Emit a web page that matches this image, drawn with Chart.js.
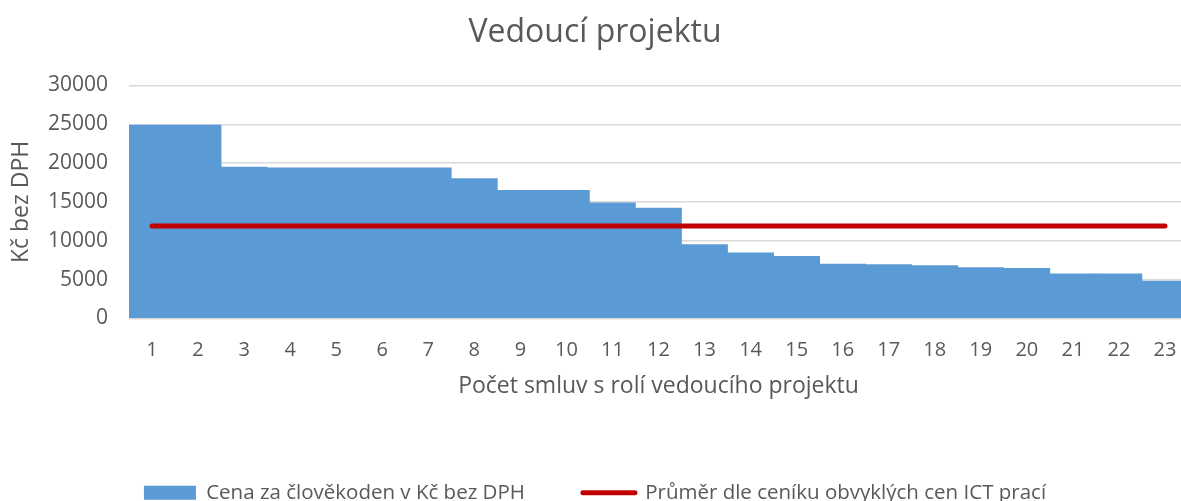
<!DOCTYPE html>
<html>
<head>
<meta charset="utf-8">
<script src="https://cdn.jsdelivr.net/npm/chart.js@4.4.1/dist/chart.umd.min.js"></script>
<style>
html,body{margin:0;padding:0;background:#fff;overflow:hidden;}
#wrap{position:relative;width:1188px;height:513px;}
</style>
</head>
<body>
<div id="wrap"><canvas id="c"></canvas></div>
<script>
const categories = ["1","2","3","4","5","6","7","8","9","10","11","12","13","14","15","16","17","18","19","20","21","22","23"];
const pricePerDay = [24900,24900,19500,19400,19400,19400,19400,18000,16500,16500,14900,14200,9500,8450,8000,7000,6950,6800,6550,6450,5750,5750,4800];
const averagePrice = [11900,11900,11900,11900,11900,11900,11900,11900,11900,11900,11900,11900,11900,11900,11900,11900,11900,11900,11900,11900,11900,11900,11900];
const yTicks = [0,5000,10000,15000,20000,25000,30000];
const seriesNames = ["Cena za člověkoden v Kč bez DPH","Průměr dle ceníku obvyklých cen ICT prací"];
const chartTitle = "Vedoucí projektu";
const xTitle = "Počet smluv s rolí vedoucího projektu";
const yTitle = "Kč bez DPH";

const FONT = "'Open Sans', 'Liberation Sans', sans-serif";
const GREY = "#595959";

new Chart(document.getElementById('c'), {
  type: 'bar',
  data: {
    labels: categories,
    datasets: [
      {
        type: 'line',
        label: seriesNames[1],
        data: averagePrice,
        borderColor: '#C00000',
        backgroundColor: '#C00000',
        borderWidth: 5,
        borderCapStyle: 'round',
        pointRadius: 0,
        pointHoverRadius: 0,
        fill: false,
        order: 0
      },
      {
        type: 'bar',
        label: seriesNames[0],
        data: pricePerDay,
        backgroundColor: '#5B9BD5',
        borderWidth: 0,
        categoryPercentage: 1.0,
        barPercentage: 1.0,
        order: 1
      }
    ]
  },
  options: {
    responsive: true,
    maintainAspectRatio: false,
    animation: false,
    layout: { padding: { left: 2, right: 0, top: 0, bottom: 0 } },
    plugins: {
      title: {
        display: true,
        text: chartTitle,
        color: GREY,
        font: { family: FONT, size: 32, weight: 'normal' },
        padding: { top: 14, bottom: 33 }
      },
      legend: {
        display: true,
        position: 'bottom',
        labels: {
          color: GREY,
          font: { family: FONT, size: 20.5 },
          usePointStyle: true,
          pointStyleWidth: 52,
          boxHeight: 14,
          padding: 58,
          generateLabels: function(chart) {
            const ds = chart.data.datasets;
            return [
              { text: ds[1].label, pointStyle: 'rect', strokeStyle: '#5B9BD5', fillStyle: '#5B9BD5', lineWidth: 0, datasetIndex: 1, fontColor: GREY },
              { text: ds[0].label, pointStyle: 'line', strokeStyle: '#C00000', fillStyle: '#C00000', lineWidth: 5, lineCap: 'round', datasetIndex: 0, fontColor: GREY }
            ];
          }
        }
      },
      tooltip: { enabled: false }
    },
    scales: {
      x: {
        grid: { display: false, drawTicks: false },
        border: { display: false },
        ticks: { color: GREY, font: { family: FONT, size: 20 }, padding: 20, maxRotation: 0, autoSkip: false },
        title: { display: true, text: xTitle, color: GREY, font: { family: FONT, size: 23 }, padding: { top: 0, bottom: 24 } },
        afterFit: function(scale) { scale.height = 106; scale.paddingRight = 0; scale.paddingLeft = 0; }
      },
      y: {
        min: 0,
        max: 30000,
        afterBuildTicks: function(scale) { scale.ticks = yTicks.map(v => ({ value: v })); },
        grid: { color: '#D9D9D9', lineWidth: 1.5, drawTicks: false },
        border: { display: false },
        ticks: { color: GREY, font: { family: FONT, size: 21 }, padding: 21, callback: function(v) { return String(v); } },
        title: { display: true, text: yTitle, color: GREY, font: { family: FONT, size: 23 }, padding: { top: 6, bottom: 4 } },
        afterFit: function(scale) { scale.width = 127; }
      }
    }
  }
});
</script>
</body>
</html>
